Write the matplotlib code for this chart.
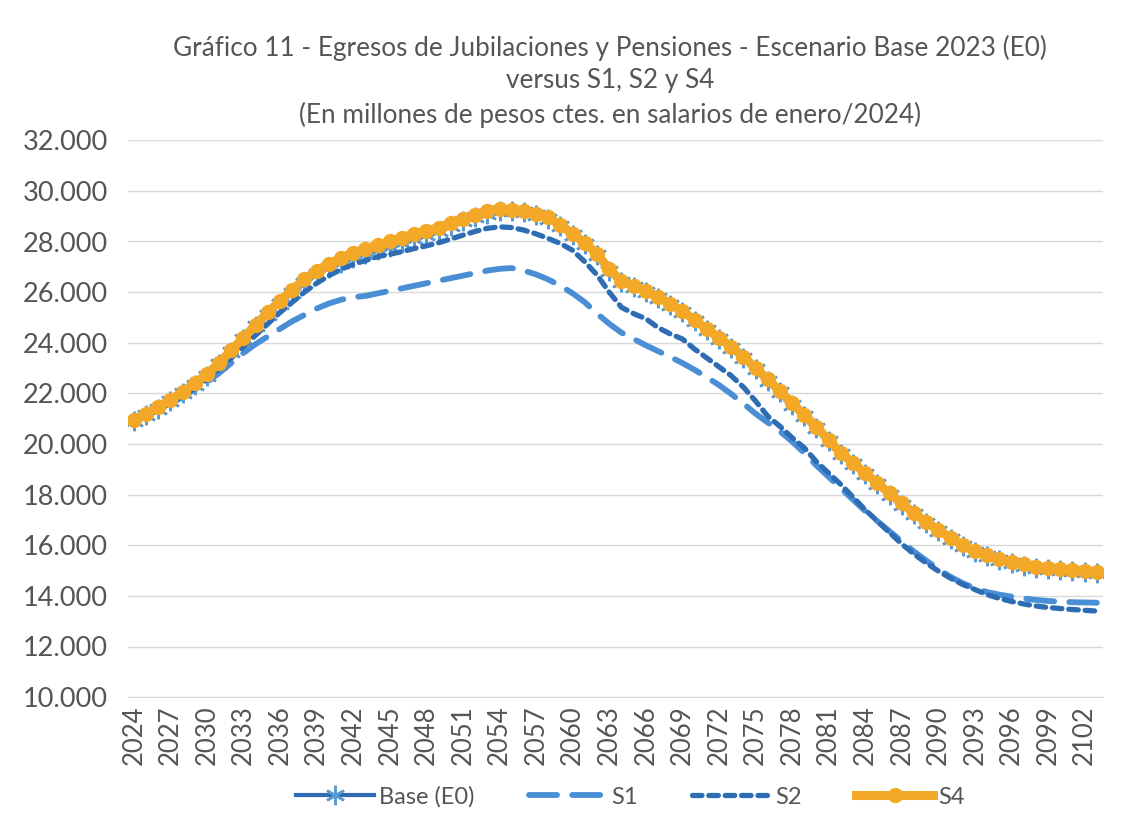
import matplotlib
matplotlib.use("Agg")
import matplotlib.pyplot as plt
from matplotlib.lines import Line2D
from matplotlib.ticker import FuncFormatter, MultipleLocator

years = list(range(2024, 2104))

base_e0 = [20.90, 21.15, 21.40, 21.70, 22.00, 22.35, 22.70, 23.15, 23.65, 24.15,
           24.65, 25.10, 25.55, 25.95, 26.35, 26.70, 26.95, 27.15, 27.35, 27.50,
           27.65, 27.80, 27.95, 28.10, 28.25, 28.40, 28.60, 28.80, 28.95, 29.10,
           29.20, 29.20, 29.15, 29.05, 28.90, 28.60, 28.25, 27.90, 27.45, 26.85,
           26.40, 26.20, 26.00, 25.75, 25.50, 25.20, 24.85, 24.50, 24.15, 23.80,
           23.40, 22.95, 22.50, 22.05, 21.55, 21.10, 20.63, 20.10, 19.60, 19.20,
           18.80, 18.40, 18.00, 17.60, 17.22, 16.87, 16.55, 16.25, 15.96, 15.74,
           15.56, 15.41, 15.30, 15.20, 15.11, 15.06, 15.02, 14.98, 14.94, 14.91]

s1 = [20.90, 21.10, 21.35, 21.60, 21.85, 22.15, 22.45, 22.80, 23.20, 23.60,
      23.95, 24.25, 24.55, 24.85, 25.10, 25.35, 25.55, 25.70, 25.80, 25.85,
      25.95, 26.05, 26.15, 26.25, 26.35, 26.45, 26.55, 26.65, 26.75, 26.85,
      26.92, 26.95, 26.85, 26.70, 26.50, 26.25, 25.95, 25.60, 25.15, 24.75,
      24.40, 24.15, 23.90, 23.67, 23.44, 23.20, 22.93, 22.64, 22.33, 21.98,
      21.60, 21.20, 20.85, 20.50, 20.10, 19.65, 19.15, 18.70, 18.25, 17.80,
      17.35, 16.95, 16.55, 16.15, 15.75, 15.40, 15.05, 14.75, 14.50, 14.30,
      14.15, 14.05, 13.97, 13.90, 13.84, 13.80, 13.77, 13.75, 13.74, 13.73]

s2 = [20.90, 21.10, 21.35, 21.60, 21.90, 22.20, 22.55, 22.95, 23.40, 23.85,
      24.30, 24.75, 25.20, 25.60, 26.00, 26.35, 26.65, 26.90, 27.10, 27.25,
      27.40, 27.50, 27.60, 27.72, 27.83, 27.95, 28.10, 28.25, 28.40, 28.52,
      28.58, 28.55, 28.45, 28.30, 28.12, 27.92, 27.65, 27.20, 26.68, 26.00,
      25.40, 25.15, 24.95, 24.60, 24.35, 24.15, 23.75, 23.40, 23.05, 22.70,
      22.25, 21.70, 21.10, 20.70, 20.25, 19.85, 19.30, 18.85, 18.40, 17.90,
      17.40, 16.95, 16.50, 16.05, 15.65, 15.30, 14.98, 14.70, 14.45, 14.25,
      14.05, 13.90, 13.78, 13.68, 13.60, 13.54, 13.50, 13.46, 13.43, 13.40]

s4 = [20.95, 21.20, 21.45, 21.75, 22.05, 22.40, 22.75, 23.20, 23.70, 24.20,
      24.70, 25.20, 25.65, 26.10, 26.50, 26.85, 27.10, 27.35, 27.55, 27.70,
      27.85, 28.00, 28.15, 28.30, 28.42, 28.55, 28.72, 28.90, 29.05, 29.20,
      29.30, 29.25, 29.20, 29.10, 28.95, 28.65, 28.30, 27.95, 27.50, 26.90,
      26.45, 26.25, 26.05, 25.80, 25.55, 25.25, 24.90, 24.55, 24.20, 23.85,
      23.45, 23.00, 22.55, 22.10, 21.60, 21.15, 20.68, 20.15, 19.65, 19.25,
      18.85, 18.45, 18.05, 17.65, 17.27, 16.92, 16.60, 16.30, 16.00, 15.78,
      15.60, 15.45, 15.34, 15.24, 15.15, 15.10, 15.06, 15.02, 14.98, 14.95]

series_labels = ["Base (E0)", "S1", "S2", "S4"]
title_lines = ["Gráfico 11 - Egresos de Jubilaciones y Pensiones - Escenario Base 2023 (E0)",
               "versus S1, S2 y S4",
               "(En millones de pesos ctes. en salarios de enero/2024)"]

FONT = "Lato"
TXT = "#555555"
C_BASE = "#2E6DB4"
C_BASE_MK = "#5B9BD5"
C_S1 = "#4A8FD6"
C_S2 = "#2E6DB4"
C_S4 = "#F4A828"

plt.rcParams["font.family"] = [FONT, "DejaVu Sans"]

fig = plt.figure(figsize=(11.4, 8.25), dpi=100)
ax = fig.add_axes([0.112, 0.155, 0.8555, 0.675])

x = list(range(len(years)))
vals_k = lambda v: [a * 1000 for a in v]

base_kw = dict(color=C_BASE, lw=3, marker=(6, 2, 0), ms=14, mec=C_BASE_MK, mew=1.8)
s1_kw = dict(color=C_S1, lw=4.2, dashes=(4.8, 2.6), dash_capstyle="round")
s2_kw = dict(color=C_S2, lw=3.8, dashes=(1.8, 1.3), dash_capstyle="round")
s4_kw = dict(color=C_S4, lw=6.5, marker="o", ms=10, mfc=C_S4, mec=C_S4)

ax.plot(x, vals_k(base_e0), zorder=3, **base_kw)
ax.plot(x, vals_k(s1), zorder=4, **s1_kw)
ax.plot(x, vals_k(s2), zorder=5, **s2_kw)
ax.plot(x, vals_k(s4), zorder=6, **s4_kw)

ax.set_xlim(-0.5, len(years) - 0.5)
ax.set_ylim(10000, 32000)
ax.yaxis.set_major_locator(MultipleLocator(2000))
ax.yaxis.set_major_formatter(FuncFormatter(lambda v, p: f"{int(v):,}".replace(",", ".")))
ax.set_xticks(x[::3])
ax.set_xticklabels([str(y) for y in years[::3]], rotation=90)

ax.grid(axis="y", color="#D9D9D9", lw=1)
ax.set_axisbelow(True)
for s in ["top", "right", "left"]:
    ax.spines[s].set_visible(False)
ax.spines["bottom"].set_color("#D9D9D9")
ax.tick_params(axis="both", length=0, colors=TXT)
ax.tick_params(axis="y", pad=14, labelsize=19.5)
ax.tick_params(axis="x", pad=6, labelsize=18.5)

fig.text(0.535, 0.942, title_lines[0], ha="center", va="center", fontsize=18.8, color=TXT)
fig.text(0.535, 0.903, title_lines[1], ha="center", va="center", fontsize=18.8, color=TXT)
fig.text(0.535, 0.861, title_lines[2], ha="center", va="center", fontsize=18.8, color=TXT)

handles = [Line2D([], [], **base_kw), Line2D([], [], **s1_kw),
           Line2D([], [], **s2_kw), Line2D([], [], **s4_kw)]
leg = fig.legend(handles, series_labels, loc="center", bbox_to_anchor=(0.553, 0.034),
                 ncol=4, frameon=False, handlelength=3.3, columnspacing=2.3,
                 handletextpad=0.2, fontsize=17)
for t in leg.get_texts():
    t.set_color(TXT)

fig.savefig("out.png", dpi=100)
